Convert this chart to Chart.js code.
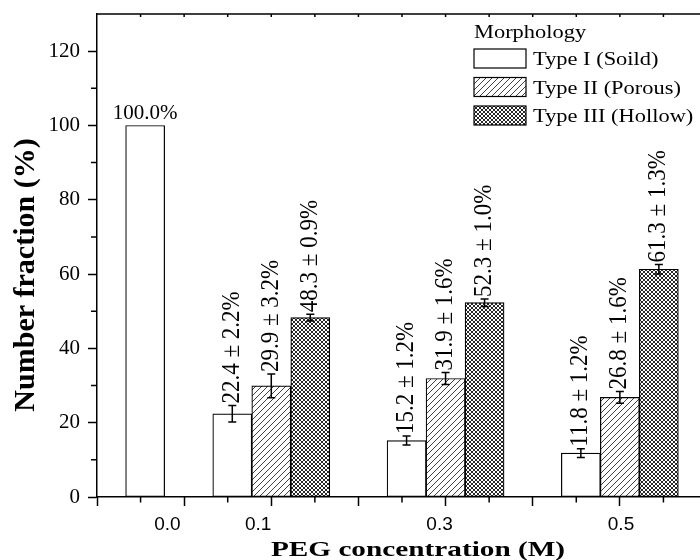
<!DOCTYPE html>
<html>
<head>
<meta charset="utf-8">
<title>Morphology vs PEG concentration</title>
<script src="https://cdn.jsdelivr.net/npm/chart.js@4.4.1/dist/chart.umd.min.js"></script>
<style>
  html, body { margin: 0; padding: 0; background: #fff; overflow: hidden; }
  #wrap { width: 712px; height: 560px; }
</style>
</head>
<body>
<div id="wrap"><canvas id="morphChart" width="712" height="560"></canvas></div>
<script>
// PEG concentration (M) of each bar group
const concentrations = [0.0, 0.1, 0.3, 0.5];
// number fraction (%) of each morphology
const solidValues  = [100.0, 22.4, 15.2, 11.8];
const porousValues = [null, 29.9, 31.9, 26.8];
const hollowValues = [null, 48.3, 52.3, 61.3];
// standard deviation (%)
const solidErrors  = [null, 2.2, 1.2, 1.2];
const porousErrors = [null, 3.2, 1.6, 1.6];
const hollowErrors = [null, 0.9, 1.0, 1.3];

const seriesNames = ['Type I (Soild)', 'Type II (Porous)', 'Type III (Hollow)'];
const legendTitle = 'Morphology';
const xTickValues = [0.0, 0.1, 0.3, 0.5];

const SERIF = "'Liberation Serif', 'Times New Roman', serif";
const SANS = "'Liberation Sans', Arial, sans-serif";

const canvas = document.getElementById('morphChart');
const ctx = canvas.getContext('2d');

// fill patterns: plain, "////" hatch and fine cross hatch
function makePattern(kind) {
  const size = kind === 'cross' ? 4 : 6;
  const c = document.createElement('canvas');
  c.width = size;
  c.height = size;
  const g = c.getContext('2d');
  g.fillStyle = '#fff';
  g.fillRect(0, 0, size, size);
  g.strokeStyle = '#000';
  g.lineWidth = kind === 'cross' ? 0.85 : 0.75;
  g.beginPath();
  g.moveTo(-1, size + 1); g.lineTo(size + 1, -1);
  g.moveTo(-1, 1); g.lineTo(1, -1);
  g.moveTo(size - 1, size + 1); g.lineTo(size + 1, size - 1);
  if (kind === 'cross') {
    g.moveTo(-1, -1); g.lineTo(size + 1, size + 1);
    g.moveTo(size - 1, -1); g.lineTo(size + 1, 1);
    g.moveTo(-1, size - 1); g.lineTo(1, size + 1);
  }
  g.stroke();
  return ctx.createPattern(c, 'repeat');
}

const fills = ['#ffffff', makePattern('hatch'), makePattern('cross')];

function toPoints(vals) {
  return concentrations.map((x, i) => ({ x: x, y: vals[i] }));
}

function drawText(c, text, x, y, o) {
  c.save();
  c.translate(x, y);
  c.scale(o.stretch || 1, 1);
  if (o.rotate) c.rotate(o.rotate);
  c.font = o.font;
  c.textAlign = o.align || 'left';
  c.textBaseline = o.baseline || 'alphabetic';
  c.fillStyle = '#000';
  c.fillText(text, 0, 0);
  c.restore();
}

// error bars, value labels, frame, minor ticks, titles and legend
const decorPlugin = {
  id: 'decor',
  afterDatasetsDraw(chart) {
    const c = chart.ctx;
    const yScale = chart.scales.y;
    c.save();
    c.strokeStyle = '#000';
    c.lineWidth = 1.5;
    chart.data.datasets.forEach((ds, i) => {
      const meta = chart.getDatasetMeta(i);
      meta.data.forEach((bar, j) => {
        const v = ds.data[j].y;
        if (v == null) return;
        const e = ds.errors[j];
        if (e == null) {
          drawText(c, v.toFixed(1) + '%', bar.x, bar.y - 6,
            { font: '21px ' + SERIF, align: 'center' });
          return;
        }
        const yTop = yScale.getPixelForValue(v + e);
        const yBot = yScale.getPixelForValue(v - e);
        c.beginPath();
        c.moveTo(bar.x, yTop); c.lineTo(bar.x, yBot);
        c.moveTo(bar.x - 4, yTop); c.lineTo(bar.x + 4, yTop);
        c.moveTo(bar.x - 4, yBot); c.lineTo(bar.x + 4, yBot);
        c.stroke();
        drawText(c, v.toFixed(1) + ' \u00b1 ' + e.toFixed(1) + '%', bar.x, yTop - 2,
          { font: '23px ' + SERIF, rotate: -Math.PI / 2, baseline: 'middle', stretch: 1.06 });
      });
    });
    c.restore();
  },
  afterDraw(chart) {
    const c = chart.ctx;
    const area = chart.chartArea;
    const xs = chart.scales.x;
    const ys = chart.scales.y;
    c.save();
    c.strokeStyle = '#000';
    c.lineWidth = 1.5;
    // top and right frame
    c.beginPath();
    c.moveTo(area.left, area.top); c.lineTo(area.right, area.top); c.lineTo(area.right, area.bottom);
    c.stroke();
    // minor ticks on the bottom and left axes, small ticks along the top
    c.beginPath();
    for (let k = -1; k <= 11; k += 2) {
      const px = xs.getPixelForValue(k * 0.05);
      c.moveTo(px, area.bottom); c.lineTo(px, area.bottom + 5.5);
    }
    for (let k = -1; k <= 12; k++) {
      const px = xs.getPixelForValue(k * 0.05);
      c.moveTo(px, area.top); c.lineTo(px, area.top + 3);
    }
    for (let v = 10; v < 130; v += 20) {
      const py = ys.getPixelForValue(v);
      c.moveTo(area.left, py); c.lineTo(area.left - 6, py);
    }
    c.stroke();

    // axis titles
    drawText(c, 'Number fraction (%)', 26, 275,
      { font: 'bold 30px ' + SERIF, rotate: -Math.PI / 2, align: 'center', baseline: 'middle' });
    drawText(c, 'PEG concentration (M)', 418, 556,
      { font: 'bold 22px ' + SERIF, align: 'center', stretch: 1.33 });

    // legend
    const lx = 474, boxW = 52, boxH = 19, rowTop = 49, rowStep = 28.5;
    drawText(c, legendTitle, lx, 38, { font: '19px ' + SERIF, stretch: 1.18 });
    chart.data.datasets.forEach((ds, i) => {
      const top = rowTop + i * rowStep;
      c.fillStyle = ds.backgroundColor;
      c.fillRect(lx, top, boxW, boxH);
      c.lineWidth = 1.2;
      c.strokeRect(lx, top, boxW, boxH);
      drawText(c, ds.label, lx + boxW + 7, top + 16, { font: '19px ' + SERIF, stretch: 1.18 });
    });
    c.restore();
  }
};

const series = [
  { vals: solidValues, errs: solidErrors },
  { vals: porousValues, errs: porousErrors },
  { vals: hollowValues, errs: hollowErrors }
];

new Chart(ctx, {
  type: 'bar',
  data: {
    datasets: series.map((s, i) => ({
      label: seriesNames[i],
      data: toPoints(s.vals),
      errors: s.errs,
      backgroundColor: fills[i],
      borderColor: '#000',
      borderWidth: 1.2,
      borderSkipped: false,
      barThickness: 39
    }))
  },
  options: {
    responsive: false,
    animation: false,
    layout: { padding: { top: 14, right: 5, left: 0, bottom: 0 } },
    plugins: { legend: { display: false }, tooltip: { enabled: false } },
    scales: {
      x: {
        type: 'linear',
        position: 'bottom',
        min: -0.1,
        max: 0.6,
        offset: false,
        weight: 0,
        ticks: { display: false, stepSize: 0.1 },
        grid: { drawOnChartArea: false, drawTicks: true, tickLength: 9, tickColor: '#000', tickWidth: 1.5, offset: false },
        border: { display: false },
        afterFit: s => { s.height = 0; }
      },
      xLabels: {
        type: 'linear',
        position: 'bottom',
        min: -0.0776,
        max: 0.5948,
        offset: false,
        weight: 1,
        afterBuildTicks: s => { s.ticks = xTickValues.map(v => ({ value: v })); },
        ticks: {
          font: { family: SANS, size: 19 },
          color: '#000',
          padding: 16,
          maxRotation: 0,
          autoSkip: false,
          callback: v => Number(v).toFixed(1)
        },
        grid: { display: false, drawTicks: false },
        border: { display: true, color: '#000', width: 1.5 },
        afterFit: s => { s.height = 63; }
      },
      y: {
        min: 0,
        max: 130,
        ticks: {
          stepSize: 20,
          includeBounds: false,
          font: { family: SERIF, size: 21 },
          color: '#000',
          padding: 8
        },
        grid: { drawOnChartArea: false, drawTicks: true, tickLength: 9, tickColor: '#000', tickWidth: 1.5 },
        border: { display: true, color: '#000', width: 1.5 },
        afterFit: s => {
          s.width = 97;
          s.paddingTop = 0;
          s.paddingBottom = 0;
        }
      }
    }
  },
  plugins: [decorPlugin]
});
</script>
</body>
</html>
